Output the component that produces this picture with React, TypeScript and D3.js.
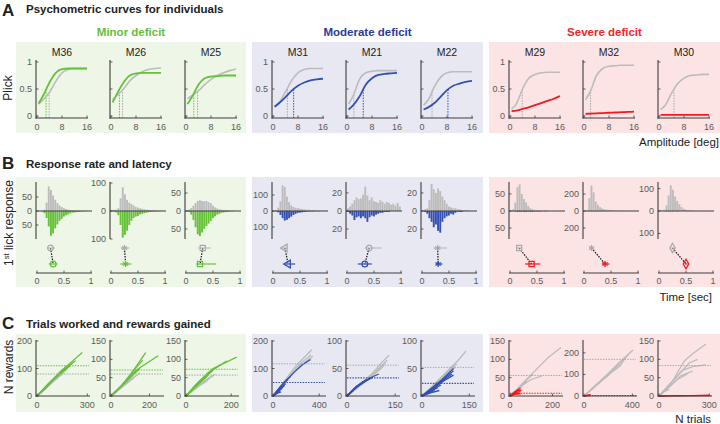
import React, { useEffect, useRef } from 'react';
import * as d3 from 'd3';

// mice, three per deficit group
const mice = ['M36', 'M26', 'M25', 'M31', 'M21', 'M22', 'M29', 'M32', 'M30'];
const groupNames = ['Minor deficit', 'Moderate deficit', 'Severe deficit'];
const groupTitleColors = ['#66bd3e', '#2b3a9b', '#f0262b'];
const groupLineColors = ['#66c13a', '#3450b2', '#f01a20'];
const groupBgColors = ['#eef6e7', '#e8e8f2', '#fce4e4'];

// A: psychometric curves, pre (gray) and post (colour)
const amplitudes = [0.5, 2, 4, 6, 8, 10, 12, 14, 16];
const prePlick = [
  [0.22, 0.3, 0.44, 0.64, 0.8, 0.86, 0.88, 0.88, 0.88],
  [0.3, 0.38, 0.5, 0.65, 0.75, 0.82, 0.86, 0.88, 0.89],
  [0.32, 0.38, 0.47, 0.58, 0.68, 0.75, 0.8, 0.84, 0.87],
  [0.17, 0.25, 0.45, 0.66, 0.8, 0.86, 0.88, 0.88, 0.88],
  [0.22, 0.38, 0.68, 0.8, 0.83, 0.84, 0.84, 0.84, 0.84],
  [0.2, 0.3, 0.55, 0.72, 0.8, 0.82, 0.82, 0.82, 0.82],
  [0.13, 0.22, 0.5, 0.7, 0.77, 0.8, 0.81, 0.81, 0.81],
  [0.3, 0.45, 0.75, 0.88, 0.92, 0.93, 0.94, 0.94, 0.94],
  [0.12, 0.2, 0.42, 0.6, 0.7, 0.75, 0.76, 0.77, 0.77],
];
const postPlick = [
  [0.23, 0.38, 0.62, 0.8, 0.87, 0.88, 0.88, 0.88, 0.88],
  [0.25, 0.42, 0.62, 0.75, 0.79, 0.8, 0.8, 0.8, 0.8],
  [0.22, 0.36, 0.58, 0.7, 0.73, 0.74, 0.75, 0.75, 0.75],
  [0.17, 0.24, 0.35, 0.47, 0.56, 0.62, 0.66, 0.68, 0.69],
  [0.12, 0.2, 0.36, 0.58, 0.7, 0.76, 0.78, 0.79, 0.8],
  [0.12, 0.16, 0.24, 0.36, 0.48, 0.56, 0.6, 0.63, 0.65],
  [0.09, 0.1, 0.13, 0.16, 0.2, 0.24, 0.28, 0.32, 0.37],
  [0.04, 0.045, 0.05, 0.055, 0.06, 0.065, 0.07, 0.075, 0.08],
  [0.02, 0.02, 0.02, 0.02, 0.02, 0.02, 0.02, 0.02, 0.02],
];
const preThreshold = [3.9, 3.7, 3.7, 4.6, 2.2, 3.2, 3.9, 2.1, 4.8];
const postThreshold = [2.9, 2.7, 2.5, 6.6, 5.2, 8.3, null, null, null];

// B: first-lick latency histograms (counts per 40 ms bin)
const binCenters = [0.02, 0.06, 0.1, 0.14, 0.18, 0.22, 0.26, 0.3, 0.34, 0.38, 0.42, 0.46, 0.5,
  0.54, 0.58, 0.62, 0.66, 0.7, 0.74, 0.78, 0.82, 0.86, 0.9, 0.94, 0.98];
const preHist = [
  [0, 0, 0, 5, 30, 88, 75, 55, 40, 28, 20, 14, 10, 7, 5, 4, 3, 3, 2, 2, 1, 1, 1, 1, 0],
  [3, 4, 5, 10, 45, 85, 60, 40, 30, 25, 20, 15, 12, 10, 8, 6, 5, 4, 3, 3, 2, 2, 1, 1, 1],
  [2, 4, 8, 15, 22, 28, 30, 28, 27, 28, 25, 22, 15, 10, 7, 5, 4, 3, 2, 2, 1, 1, 1, 0, 0],
  [0, 5, 20, 60, 160, 150, 90, 55, 35, 25, 20, 18, 15, 12, 10, 8, 8, 6, 5, 4, 3, 3, 2, 2, 1],
  [3, 5, 8, 12, 15, 13, 14, 18, 27, 17, 12, 15, 11, 10, 9, 12, 10, 8, 10, 9, 7, 8, 6, 9, 5],
  [1, 2, 3, 12, 30, 24, 20, 25, 22, 16, 12, 8, 5, 4, 3, 3, 2, 2, 1, 1, 1, 1, 0, 0, 0],
  [0, 5, 25, 70, 78, 50, 35, 25, 15, 8, 5, 3, 2, 2, 1, 1, 1, 1, 0, 0, 0, 0, 0, 0, 0],
  [0, 10, 150, 300, 220, 110, 70, 45, 30, 22, 15, 12, 10, 8, 6, 5, 4, 3, 3, 2, 2, 1, 1, 1, 1],
  [0, 2, 5, 25, 70, 115, 95, 65, 45, 30, 18, 10, 6, 4, 3, 2, 1, 1, 1, 0, 0, 0, 0, 0, 0],
];
const postHist = [
  [0, 0, 2, 8, 25, 55, 88, 80, 62, 48, 35, 28, 20, 15, 12, 8, 6, 5, 4, 3, 2, 1, 1, 0, 0],
  [0, 2, 5, 15, 50, 95, 85, 70, 50, 35, 25, 20, 18, 12, 10, 8, 6, 4, 3, 2, 2, 1, 1, 0, 0],
  [0, 3, 10, 25, 45, 65, 70, 60, 50, 42, 35, 28, 20, 15, 10, 8, 5, 4, 3, 2, 1, 1, 0, 0, 0],
  [0, 2, 8, 25, 45, 60, 55, 45, 35, 25, 18, 12, 10, 8, 6, 4, 3, 2, 2, 1, 1, 1, 0, 0, 0],
  [1, 3, 5, 10, 7, 6, 8, 6, 8, 12, 7, 5, 6, 4, 3, 2, 2, 1, 1, 1, 0, 0, 0, 0, 0],
  [0, 1, 3, 8, 12, 18, 15, 22, 24, 12, 8, 6, 5, 3, 4, 2, 1, 1, 1, 0, 0, 0, 0, 0, 0],
  [0, 0, 1, 2, 2, 1, 2, 2, 1, 2, 2, 1, 1, 1, 1, 0, 1, 0, 0, 0, 0, 0, 0, 0, 0],
  [0, 0, 1, 3, 2, 2, 1, 1, 1, 1, 1, 0, 0, 0, 0, 0, 0, 0, 0, 0, 0, 0, 0, 0, 0],
  [0, 0, 0, 1, 1, 1, 1, 0, 1, 0, 0, 0, 0, 0, 0, 0, 0, 0, 0, 0, 0, 0, 0, 0, 0],
];
const histLimit = [100, 100, 78, 175, 31, 31, 82, 330, 125];
const histTick = [50, 100, 50, 100, 20, 20, 50, 200, 100];
// median latency with spread, pre and post
const preLatency = [0.25, 0.25, 0.31, 0.22, 0.41, 0.29, 0.17, 0.14, 0.25];
const preLatencyLo = [0.19, 0.18, 0.22, 0.17, 0.33, 0.21, 0.13, 0.1, 0.2];
const preLatencyHi = [0.33, 0.34, 0.46, 0.27, 0.64, 0.46, 0.21, 0.18, 0.3];
const postLatency = [0.3, 0.27, 0.26, 0.28, 0.33, 0.3, 0.4, 0.39, 0.5];
const postLatencyLo = [0.22, 0.17, 0.19, 0.22, 0.2, 0.25, 0.28, 0.33, 0.48];
const postLatencyHi = [0.38, 0.38, 0.56, 0.41, 0.46, 0.38, 0.56, 0.47, 0.53];
const markerShapes = ['circle', 'asterisk', 'square', 'triangle', 'circle', 'asterisk', 'square', 'asterisk', 'diamond'];

// C: cumulative rewards vs trials per session, [trials, rewards] vertices
const preSessions = [
  [[[0, 0], [60, 35], [120, 70], [200, 112]], [[0, 0], [70, 38], [140, 78], [180, 98]], [[0, 0], [50, 30], [110, 62], [160, 85]],
   [[0, 0], [60, 32], [120, 66], [150, 78]], [[0, 0], [40, 22], [90, 50], [130, 68]], [[0, 0], [50, 25], [100, 55]], [[0, 0], [30, 15], [60, 35]]],
  [[[0, 0], [50, 22], [100, 45], [150, 62]], [[0, 0], [40, 18], [90, 40], [130, 55]], [[0, 0], [60, 25], [120, 50]],
   [[0, 0], [50, 22], [110, 48]], [[0, 0], [30, 12], [80, 35]]],
  [[[0, 0], [40, 22], [90, 45], [130, 60]], [[0, 0], [50, 25], [100, 48], [120, 55]], [[0, 0], [30, 16], [70, 34], [105, 48]],
   [[0, 0], [60, 28], [95, 42]]],
  [[[0, 0], [100, 55], [200, 110], [335, 168]], [[0, 0], [120, 60], [230, 115], [330, 150]], [[0, 0], [100, 50], [220, 105], [345, 145]],
   [[0, 0], [80, 42], [160, 80], [250, 118]]],
  [[[0, 0], [40, 20], [80, 42], [110, 62], [131, 74]], [[0, 0], [50, 25], [90, 45], [125, 65]], [[0, 0], [40, 20], [80, 40], [120, 60]],
   [[0, 0], [50, 23], [90, 42], [115, 55]], [[0, 0], [40, 18], [80, 38], [100, 50]]],
  [[[0, 0], [40, 22], [80, 45], [115, 65], [140, 82]], [[0, 0], [40, 20], [80, 42], [110, 58]], [[0, 0], [40, 22], [70, 38], [100, 55]],
   [[0, 0], [35, 18], [70, 36], [105, 52]]],
  [[[0, 0], [60, 35], [120, 70], [180, 105], [240, 132]], [[0, 0], [40, 20], [80, 45], [110, 60]], [[0, 0], [30, 15], [60, 30], [80, 40]],
   [[0, 0], [35, 18], [70, 35]], [[0, 0], [25, 12], [50, 25]], [[0, 0], [60, 30], [100, 45], [150, 55]]],
  [[[0, 0], [100, 52], [200, 105], [300, 160], [406, 213]], [[0, 0], [100, 50], [200, 100], [300, 150], [380, 200]],
   [[0, 0], [100, 48], [200, 98], [300, 140], [350, 185]], [[0, 0], [100, 50], [200, 95], [290, 155]]],
  [[[0, 0], [80, 40], [150, 95], [200, 115], [280, 142]], [[0, 0], [60, 30], [120, 60], [180, 90], [230, 100]],
   [[0, 0], [70, 35], [140, 70], [200, 80], [280, 85]], [[0, 0], [60, 25], [130, 55], [200, 68]], [[0, 0], [50, 20], [110, 45], [170, 60]],
   [[0, 0], [30, 12], [60, 18]]],
];
const postSessions = [
  [[[0, 0], [80, 50], [170, 105], [270, 158]], [[0, 0], [70, 45], [150, 92], [230, 128]], [[0, 0], [60, 40], [140, 88], [210, 118]],
   [[0, 0], [80, 48], [140, 85], [190, 112]], [[0, 0], [50, 32], [120, 75], [175, 108]], [[0, 0], [60, 35], [110, 68], [160, 100]],
   [[0, 0], [70, 42], [150, 95]], [[0, 0], [90, 55], [200, 112]]],
  [[[0, 0], [60, 30], [130, 70], [245, 110]], [[0, 0], [70, 35], [130, 80], [180, 118]], [[0, 0], [50, 25], [110, 65], [165, 98]],
   [[0, 0], [60, 30], [120, 60], [150, 75]], [[0, 0], [40, 20], [90, 50], [130, 68]], [[0, 0], [50, 25], [100, 52], [120, 62]]],
  [[[0, 0], [50, 35], [120, 75], [224, 106]], [[0, 0], [40, 28], [100, 65], [180, 95]], [[0, 0], [50, 32], [110, 68], [155, 86]],
   [[0, 0], [30, 20], [80, 50], [130, 78]], [[0, 0], [60, 38], [120, 70]], [[0, 0], [40, 25], [100, 58]], [[0, 0], [50, 30], [90, 52]]],
  [[[0, 0], [80, 40], [180, 85], [260, 115], [325, 133]], [[0, 0], [60, 32], [120, 60], [150, 70]], [[0, 0], [50, 25], [100, 50], [130, 60]],
   [[0, 0], [60, 25], [110, 45]], [[0, 0], [50, 20], [100, 38]], [[0, 0], [40, 15], [80, 28]], [[0, 0], [30, 10], [60, 18]], [[0, 0], [40, 10], [70, 15]]],
  [[[0, 0], [30, 18], [60, 28], [80, 35], [99, 40]], [[0, 0], [30, 16], [60, 28], [80, 34]], [[0, 0], [25, 15], [50, 25], [70, 32]],
   [[0, 0], [30, 16], [60, 30]], [[0, 0], [25, 14], [50, 27]], [[0, 0], [20, 11], [40, 22]]],
  [[[0, 0], [30, 14], [60, 28], [100, 50]], [[0, 0], [30, 13], [70, 32], [100, 46]], [[0, 0], [40, 16], [70, 30], [95, 40]],
   [[0, 0], [30, 12], [70, 28], [100, 38]], [[0, 0], [30, 12], [55, 22], [70, 30]], [[0, 0], [30, 10], [60, 20]], [[0, 0], [25, 8], [50, 15]],
   [[0, 0], [20, 5], [40, 10]], [[0, 0], [15, 4], [30, 8]], [[0, 0], [30, 6], [55, 10]]],
  [[[0, 0], [20, 10], [40, 18], [50, 22]], [[0, 0], [20, 8], [35, 14], [55, 16]], [[0, 0], [15, 6], [30, 10], [50, 12]],
   [[0, 0], [20, 6], [45, 8]], [[0, 0], [25, 5], [50, 6]], [[0, 0], [10, 4], [30, 8]]],
  [[[0, 0], [20, 3], [40, 5], [55, 6]], [[0, 0], [30, 2], [50, 3]]],
  [[[0, 0], [100, 1], [200, 1], [300, 2]], [[0, 0], [50, 1], [150, 1]]],
];
const preMeanRewards = [80, 60, 57, 117, 56, 52, 56, 170, 83];
const postMeanRewards = [110, 71, 73, 49, 33, 23, 7.5, 2, 1];
const trialMax = [310, 270, 230, 450, 162, 165, 245, 430, 310];
const trialTicks = [[0, 300], [0, 200], [0, 200], [0, 400], [0, 150], [0, 150], [0, 200], [0, 400], [0, 300]];
const rewardMax = [200, 150, 150, 200, 100, 100, 150, 255, 150];
const rewardTicks = [[0, 100, 200], [0, 50, 100, 150], [0, 50, 100, 150], [0, 100, 200], [0, 50, 100], [0, 50, 100],
  [0, 50, 100, 150], [0, 100, 200], [0, 50, 100, 150]];

const FONT = '"Liberation Sans", Arial, Helvetica, sans-serif';
const groupLeft = [16, 252, 489];
const groupRight = [246, 483, 720];
const slotOffset = [20, 94, 169];
const axisColor = '#3c3c3c';
const tickColor = '#5a5a5a';
const preColor = '#bcbcbc';

function axisX(i: number) {
  return groupLeft[Math.floor(i / 3)] + slotOffset[i % 3];
}

function label(g: any, x: number, y: number, s: string, size: number, opts: any = {}) {
  return g.append('text')
    .attr('x', x)
    .attr('y', y)
    .attr('font-family', FONT)
    .attr('font-size', size)
    .attr('font-weight', opts.bold ? 'bold' : 'normal')
    .attr('fill', opts.fill || '#222')
    .attr('text-anchor', opts.anchor || 'start')
    .attr('transform', opts.rotate ? `rotate(-90,${x},${y})` : null)
    .text(s);
}

function hline(g: any, x1: number, x2: number, y: number, color = axisColor, w = 1.1, dash: string | null = null) {
  g.append('line').attr('x1', x1).attr('x2', x2).attr('y1', y).attr('y2', y)
    .attr('stroke', color).attr('stroke-width', w).attr('stroke-dasharray', dash);
}
function vline(g: any, x: number, y1: number, y2: number, color = axisColor, w = 1.1, dash: string | null = null) {
  g.append('line').attr('x1', x).attr('x2', x).attr('y1', y1).attr('y2', y2)
    .attr('stroke', color).attr('stroke-width', w).attr('stroke-dasharray', dash);
}

function symbolFor(shape: string) {
  if (shape === 'square') return d3.symbolSquare;
  if (shape === 'asterisk') return d3.symbolAsterisk;
  if (shape === 'triangle') return d3.symbolTriangle;
  if (shape === 'diamond') return d3.symbolDiamond;
  return d3.symbolCircle;
}

function drawChart(el: SVGSVGElement) {
  const svg = d3.select(el);
  svg.selectAll('*').remove();

  // backgrounds
  const rows = [[42, 133], [177, 287], [334, 412]];
  rows.forEach(([y0, y1]) => {
    groupLeft.forEach((gx, gi) => {
      svg.append('rect').attr('x', gx).attr('y', y0).attr('width', groupRight[gi] - gx).attr('height', y1 - y0)
        .attr('fill', groupBgColors[gi]);
    });
  });

  // headings
  label(svg, 2, 16, 'A', 17, { bold: true });
  label(svg, 26, 13, 'Psychometric curves for individuals', 11.5, { bold: true });
  label(svg, 2, 169, 'B', 17, { bold: true });
  label(svg, 26, 168, 'Response rate and latency', 11.5, { bold: true });
  label(svg, 2, 329, 'C', 17, { bold: true });
  label(svg, 26, 328, 'Trials worked and rewards gained', 11.5, { bold: true });
  groupNames.forEach((n, gi) => {
    label(svg, (groupLeft[gi] + groupRight[gi]) / 2, 36, n, 11.5, { bold: true, fill: groupTitleColors[gi], anchor: 'middle' });
  });

  label(svg, 12, 88, 'Plick', 12, { rotate: true, anchor: 'middle' });
  const lick = svg.append('text').attr('transform', 'rotate(-90,13,223)').attr('x', 13).attr('y', 223)
    .attr('font-family', FONT).attr('font-size', 12).attr('fill', '#222').attr('text-anchor', 'middle');
  lick.append('tspan').text('1');
  lick.append('tspan').attr('font-size', 7.5).attr('dy', -4).text('st');
  lick.append('tspan').attr('dy', 4).text(' lick response');
  label(svg, 13, 367, 'N rewards', 12, { rotate: true, anchor: 'middle' });
  label(svg, 719, 146, 'Amplitude [deg]', 11.5, { anchor: 'end' });
  label(svg, 712, 301, 'Time [sec]', 11.5, { anchor: 'end' });
  label(svg, 711, 423, 'N trials', 11.5, { anchor: 'end' });

  const tick = 2.5;

  mice.forEach((m, i) => {
    const gi = Math.floor(i / 3);
    const col = groupLineColors[gi];
    const ax = axisX(i);
    const g = svg.append('g');

    // ---------- A ----------
    const xa = d3.scaleLinear().domain([0, 16]).range([ax + 1, ax + 51]);
    const ya = d3.scaleLinear().domain([0, 1]).range([116, 62]);
    label(g, ax + 26, 56, m, 10.5, { anchor: 'middle' });
    const curve = d3.line<number>().x((_, j) => xa(amplitudes[j])).y(v => ya(v)).curve(d3.curveMonotoneX);
    const preAt = d3.scaleLinear().domain(amplitudes).range(prePlick[i]);
    const postAt = d3.scaleLinear().domain(amplitudes).range(postPlick[i]);
    vline(g, xa(preThreshold[i]), 118, ya(preAt(preThreshold[i])), '#a8a8a8', 1, '1.5,1.2');
    const pt = postThreshold[i];
    if (pt !== null) vline(g, xa(pt), 118, ya(postAt(pt)), col, 1, '1.5,1.2');
    g.append('path').attr('d', curve(prePlick[i])).attr('fill', 'none').attr('stroke', preColor).attr('stroke-width', 1.6);
    g.append('path').attr('d', curve(postPlick[i])).attr('fill', 'none').attr('stroke', col).attr('stroke-width', 1.8);
    vline(g, ax, 60, 118.5);
    hline(g, ax - 0.5, ax + 52, 118);
    [0, 8, 16].forEach(t => {
      vline(g, xa(t), 118, 118 - tick, axisColor, 0.8);
      label(g, xa(t), 130, String(t), 9, { fill: tickColor, anchor: 'middle' });
    });
    [0, 0.5, 1].forEach(t => {
      hline(g, ax, ax + tick, ya(t), axisColor, 0.8);
      if (i % 3 === 0) label(g, ax - 4, ya(t) + 3, String(t), 9, { fill: tickColor, anchor: 'end' });
    });

    // ---------- B ----------
    const xb = d3.scaleLinear().domain([0, 1]).range([ax + 1, ax + 55]);
    const yb = d3.scaleLinear().domain([-histLimit[i], histLimit[i]]).range([239, 183]);
    const half = 0.02;
    binCenters.forEach((c, j) => {
      const w = xb(c + half) - xb(c - half) - 0.25;
      if (preHist[i][j] > 0)
        g.append('rect').attr('x', xb(c - half)).attr('width', w).attr('y', yb(preHist[i][j]))
          .attr('height', yb(0) - yb(preHist[i][j])).attr('fill', preColor);
      if (postHist[i][j] > 0)
        g.append('rect').attr('x', xb(c - half)).attr('width', w).attr('y', yb(0))
          .attr('height', yb(-postHist[i][j]) - yb(0)).attr('fill', col);
    });
    hline(g, ax, ax + 56, yb(0), axisColor, 1);
    vline(g, ax, 182, 239);
    [histTick[i], 0, -histTick[i]].forEach(t => {
      hline(g, ax, ax + tick, yb(t), axisColor, 0.8);
      label(g, ax - 4, yb(t) + 3, String(Math.abs(t)), 9, { fill: tickColor, anchor: 'end' });
    });
    // latency markers
    const yPre = 248, yPost = 264;
    g.append('line').attr('x1', xb(preLatency[i])).attr('y1', yPre).attr('x2', xb(postLatency[i])).attr('y2', yPost)
      .attr('stroke', '#111').attr('stroke-width', 1.2).attr('stroke-dasharray', '1.5,1.2');
    hline(g, xb(preLatencyLo[i]), xb(preLatencyHi[i]), yPre, preColor, 1.2);
    hline(g, xb(postLatencyLo[i]), xb(postLatencyHi[i]), yPost, col, 1.2);
    const sym = d3.symbol().type(symbolFor(markerShapes[i])).size(26);
    const rot = markerShapes[i] === 'triangle' ? ' rotate(-90)' : '';
    g.append('path').attr('d', sym()).attr('transform', `translate(${xb(preLatency[i])},${yPre})${rot}`)
      .attr('fill', 'none').attr('stroke', '#a8a8a8').attr('stroke-width', 1.2);
    g.append('path').attr('d', sym()).attr('transform', `translate(${xb(postLatency[i])},${yPost})${rot}`)
      .attr('fill', 'none').attr('stroke', col).attr('stroke-width', 1.3);
    hline(g, ax, ax + 56, 273);
    [0, 0.5, 1].forEach(t => {
      vline(g, xb(t), 273, 273 - tick, axisColor, 0.8);
      label(g, xb(t), 284, String(t), 9, { fill: tickColor, anchor: 'middle' });
    });

    // ---------- C ----------
    const xc = d3.scaleLinear().domain([0, trialMax[i]]).range([ax + 1, ax + 53]);
    const yc = d3.scaleLinear().domain([0, rewardMax[i]]).range([396, 341]);
    const sline = d3.line<number[]>().x(d => xc(d[0])).y(d => yc(d[1]));
    preSessions[i].forEach(s => {
      g.append('path').attr('d', sline(s)).attr('fill', 'none').attr('stroke', preColor).attr('stroke-width', 1.3);
    });
    postSessions[i].forEach(s => {
      g.append('path').attr('d', sline(s)).attr('fill', 'none').attr('stroke', col).attr('stroke-width', 1.3);
    });
    hline(g, ax + 1, ax + 53, yc(preMeanRewards[i]), '#a8a8a8', 1, '1.5,1.2');
    hline(g, ax + 1, ax + 53, yc(postMeanRewards[i]), col, 1.1, '1.5,1.2');
    vline(g, ax, 340, 396.5);
    hline(g, ax - 0.5, ax + 54, 396);
    rewardTicks[i].forEach(t => {
      hline(g, ax, ax + tick, yc(t), axisColor, 0.8);
      label(g, ax - 4, yc(t) + 3, String(t), 9, { fill: tickColor, anchor: 'end' });
    });
    trialTicks[i].forEach(t => {
      vline(g, xc(t), 396, 396 - tick, axisColor, 0.8);
      label(g, xc(t), 408, String(t), 9, { fill: tickColor, anchor: 'middle' });
    });
  });
}

export default function App() {
  const ref = useRef<SVGSVGElement>(null);
  useEffect(() => {
    if (ref.current) drawChart(ref.current);
  }, []);
  return (
    <svg ref={ref} width={720} height={424}
      style={{ position: 'absolute', left: 0, top: 0, background: '#fff' }} />
  );
}
